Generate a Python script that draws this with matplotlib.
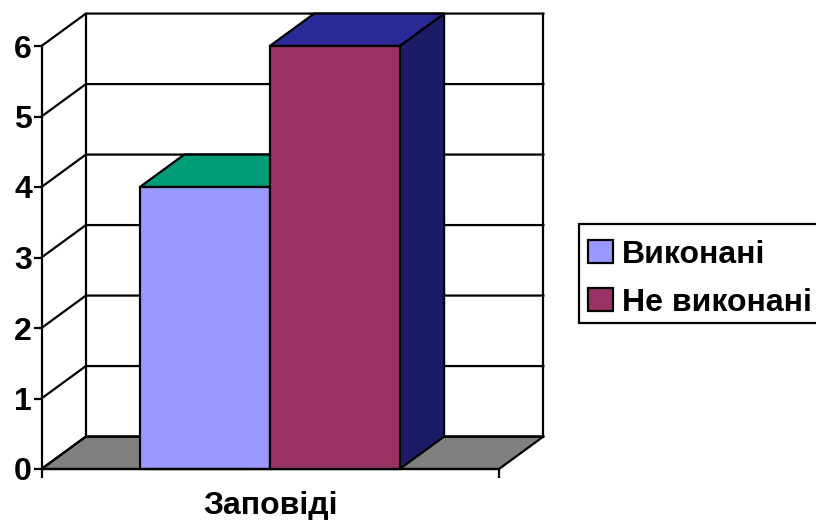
#!/usr/bin/env python3
import matplotlib
matplotlib.use("Agg")
import matplotlib.pyplot as plt
from matplotlib.patches import Patch, Polygon, Rectangle

plt.rcParams['font.family'] = ['Liberation Sans', 'DejaVu Sans']

category = 'Заповіді'
series = ['Виконані', 'Не виконані']
values = [4, 6]
yticks = [0, 1, 2, 3, 4, 5, 6]

front_colors = ['#9999FF', '#993366']
top_colors = ['#009B77', '#2A2A99']
side_colors = ['#00664F', '#1C1C66']
floor_color = '#808080'

# depth of the fake 3d box, x in axis units, y in value units
dx = 0.097
dy = 0.46
bar_w = 0.284
bar_start = 0.215
lw = 1.6
fs = 23

fig = plt.figure(figsize=(8.16, 5.2), dpi=100)
ax = fig.add_axes([41.5 / 816, 51 / 520, 457.5 / 816, 423 / 520])
ax.set_xlim(0, 1)
ax.set_ylim(0, 6)


def face(pts, color, z):
    ax.add_patch(Polygon(pts, closed=True, facecolor=color, edgecolor='black',
                         linewidth=lw, clip_on=False, zorder=z, joinstyle='round'))


# floor
face([(0, 0), (1, 0), (1 + dx, dy), (dx, dy)], floor_color, 1)

# back wall and left wall grid
for v in yticks:
    ax.plot([0, dx, 1 + dx], [v, v + dy, v + dy], color='black', lw=lw,
            clip_on=False, zorder=2, solid_joinstyle='miter')
ax.plot([dx, dx], [dy, 6 + dy], color='black', lw=lw, clip_on=False, zorder=2)
ax.plot([1 + dx, 1 + dx], [dy, 6 + dy], color='black', lw=lw, clip_on=False, zorder=2)

# bars, each one with its top and side faces
for i, (name, val) in enumerate(zip(series, values)):
    x0 = bar_start + i * bar_w
    x1 = x0 + bar_w
    z = 3 + i
    face([(x1, 0), (x1 + dx, dy), (x1 + dx, val + dy), (x1, val)], side_colors[i], z)
    face([(x0, val), (x1, val), (x1 + dx, val + dy), (x0 + dx, val + dy)], top_colors[i], z)
    ax.bar(x0, val, width=bar_w, align='edge', color=front_colors[i], edgecolor='black',
           linewidth=lw, clip_on=False, zorder=z + 0.5)

for s in ['top', 'right']:
    ax.spines[s].set_visible(False)
for s in ['left', 'bottom']:
    ax.spines[s].set_linewidth(lw)
    ax.spines[s].set_zorder(6)

ax.set_yticks(yticks)
ax.tick_params(axis='y', length=5.5, width=lw, labelsize=fs, pad=1.5)
for t in ax.get_yticklabels():
    t.set_fontweight('bold')

ax.set_xticks([0, 1])
ax.set_xticklabels(['', ''])
ax.tick_params(axis='x', which='major', length=6.5, width=lw)
ax.set_xticks([0.5], minor=True)
ax.set_xticklabels([category], minor=True, fontsize=fs, fontweight='bold')
ax.tick_params(axis='x', which='minor', length=0, pad=15.5)

# legend frame runs off the right edge, so it is drawn apart from the entries
fig.add_artist(Rectangle((579 / 816, 1 - 323 / 520), 240 / 816, 99 / 520, transform=fig.transFigure,
                         facecolor='white', edgecolor='black', linewidth=lw, clip_on=True))
handles = [Patch(facecolor=c, edgecolor='black', linewidth=lw) for c in front_colors]
leg = fig.legend(handles, series, loc='upper left', bbox_to_anchor=(588 / 816, 1 - 240 / 520),
                 borderaxespad=0, borderpad=0, frameon=False,
                 prop={'size': fs, 'weight': 'bold'}, handlelength=0.78, handleheight=0.72,
                 handletextpad=0.28, labelspacing=0.56)
leg.set_zorder(5)

fig.savefig('out.png', dpi=100)
